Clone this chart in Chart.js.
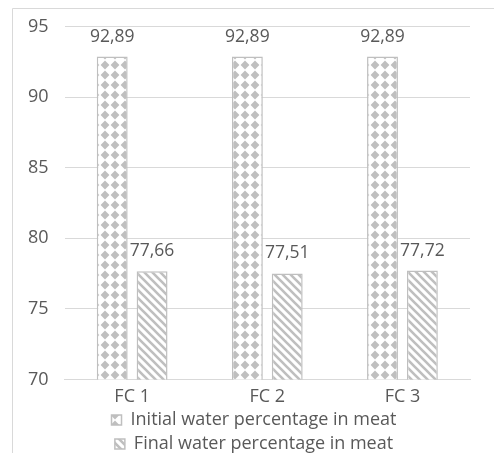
<!DOCTYPE html>
<html>
<head>
<meta charset="utf-8">
<script src="https://cdn.jsdelivr.net/npm/chart.js@4"></script>
<style>
  html, body { margin: 0; padding: 0; background: #fff; }
  #wrap { width: 494px; height: 453px; position: relative; }
</style>
</head>
<body>
<div id="wrap"><canvas id="c" width="494" height="453"></canvas></div>
<script>
// Water percentage in meat per sample
const categories = ['FC 1', 'FC 2', 'FC 3'];
const initialWater = [92.89, 92.89, 92.89];
const finalWater = [77.66, 77.51, 77.72];
const seriesNames = ['Initial water percentage in meat', 'Final water percentage in meat'];
const yTicks = [70, 75, 80, 85, 90, 95];

const FONT = '"Open Sans", "DejaVu Sans", sans-serif';
const TEXT = '#595959';
const GRID = '#d9d9d9';
const MARK = '#bfbfbf';

// Diamond fill pattern
function diamondPattern() {
  const s = 10;
  const t = document.createElement('canvas');
  t.width = s; t.height = s;
  const g = t.getContext('2d');
  g.fillStyle = '#fff';
  g.fillRect(0, 0, s, s);
  g.fillStyle = MARK;
  g.beginPath();
  g.moveTo(s / 2, 0.6);
  g.lineTo(s - 0.6, s / 2);
  g.lineTo(s / 2, s - 0.6);
  g.lineTo(0.6, s / 2);
  g.closePath();
  g.fill();
  return g.createPattern(t, 'repeat');
}

// Diagonal stripe pattern ("\" direction)
function stripePattern() {
  const s = 8;
  const t = document.createElement('canvas');
  t.width = s; t.height = s;
  const g = t.getContext('2d');
  g.fillStyle = '#fff';
  g.fillRect(0, 0, s, s);
  g.strokeStyle = MARK;
  g.lineWidth = 2.6;
  g.beginPath();
  g.moveTo(-2, -2); g.lineTo(s + 2, s + 2);
  g.moveTo(-2, s - 2); g.lineTo(2, s + 2);
  g.moveTo(s - 2, -2); g.lineTo(s + 2, 2);
  g.stroke();
  return g.createPattern(t, 'repeat');
}

// Outer frame of the chart
const framePlugin = {
  id: 'frame',
  beforeDraw(chart) {
    const ctx = chart.ctx;
    ctx.save();
    ctx.strokeStyle = GRID;
    ctx.lineWidth = 1;
    ctx.beginPath();
    ctx.moveTo(12.5, chart.height + 2);
    ctx.lineTo(12.5, 8.5);
    ctx.lineTo(chart.width + 2, 8.5);
    ctx.stroke();
    ctx.restore();
  }
};

// Tighten the legend block under the axis labels
const legendShift = {
  id: 'legendShift',
  afterLayout(chart) {
    const lg = chart.legend;
    if (lg) {
      lg.left += 13;
      lg.right += 13;
      lg.top -= 10;
      lg.bottom -= 10;
    }
  }
};

// Value labels above each bar (comma decimal)
const valueLabels = {
  id: 'valueLabels',
  afterDatasetsDraw(chart) {
    const ctx = chart.ctx;
    ctx.save();
    ctx.font = '17.5px ' + FONT;
    ctx.fillStyle = TEXT;
    ctx.textAlign = 'center';
    ctx.textBaseline = 'alphabetic';
    chart.data.datasets.forEach((ds, i) => {
      const meta = chart.getDatasetMeta(i);
      meta.data.forEach((bar, j) => {
        const txt = ds.data[j].toFixed(2).replace('.', ',');
        ctx.fillText(txt, bar.x, bar.y - 15);
      });
    });
    ctx.restore();
  }
};

new Chart(document.getElementById('c'), {
  type: 'bar',
  data: {
    labels: categories,
    datasets: [
      {
        label: seriesNames[0],
        data: initialWater,
        backgroundColor: diamondPattern(),
        borderColor: MARK,
        borderWidth: 1.5,
        barPercentage: 0.775,
        categoryPercentage: 0.59
      },
      {
        label: seriesNames[1],
        data: finalWater,
        backgroundColor: stripePattern(),
        borderColor: MARK,
        borderWidth: 1.5,
        barPercentage: 0.775,
        categoryPercentage: 0.59
      }
    ]
  },
  options: {
    responsive: false,
    animation: false,
    devicePixelRatio: 1,
    layout: { padding: { top: 21, right: 24, left: 12, bottom: -20 } },
    scales: {
      x: {
        grid: { display: false, drawTicks: false },
        border: { display: true, color: GRID, width: 1 },
        ticks: { color: TEXT, font: { family: FONT, size: 18 }, padding: 7 }
      },
      y: {
        min: 70,
        max: 95,
        afterBuildTicks(axis) { axis.ticks = yTicks.map(v => ({ value: v })); },
        grid: { color: GRID, drawTicks: false },
        border: { display: false },
        ticks: { color: TEXT, font: { family: FONT, size: 18 }, padding: 16 }
      }
    },
    plugins: {
      legend: {
        position: 'bottom',
        labels: {
          color: TEXT,
          font: { family: FONT, size: 18 },
          boxWidth: 10,
          boxHeight: 10,
          padding: 6
        }
      },
      tooltip: { enabled: false }
    }
  },
  plugins: [framePlugin, legendShift, valueLabels]
});
</script>
</body>
</html>
